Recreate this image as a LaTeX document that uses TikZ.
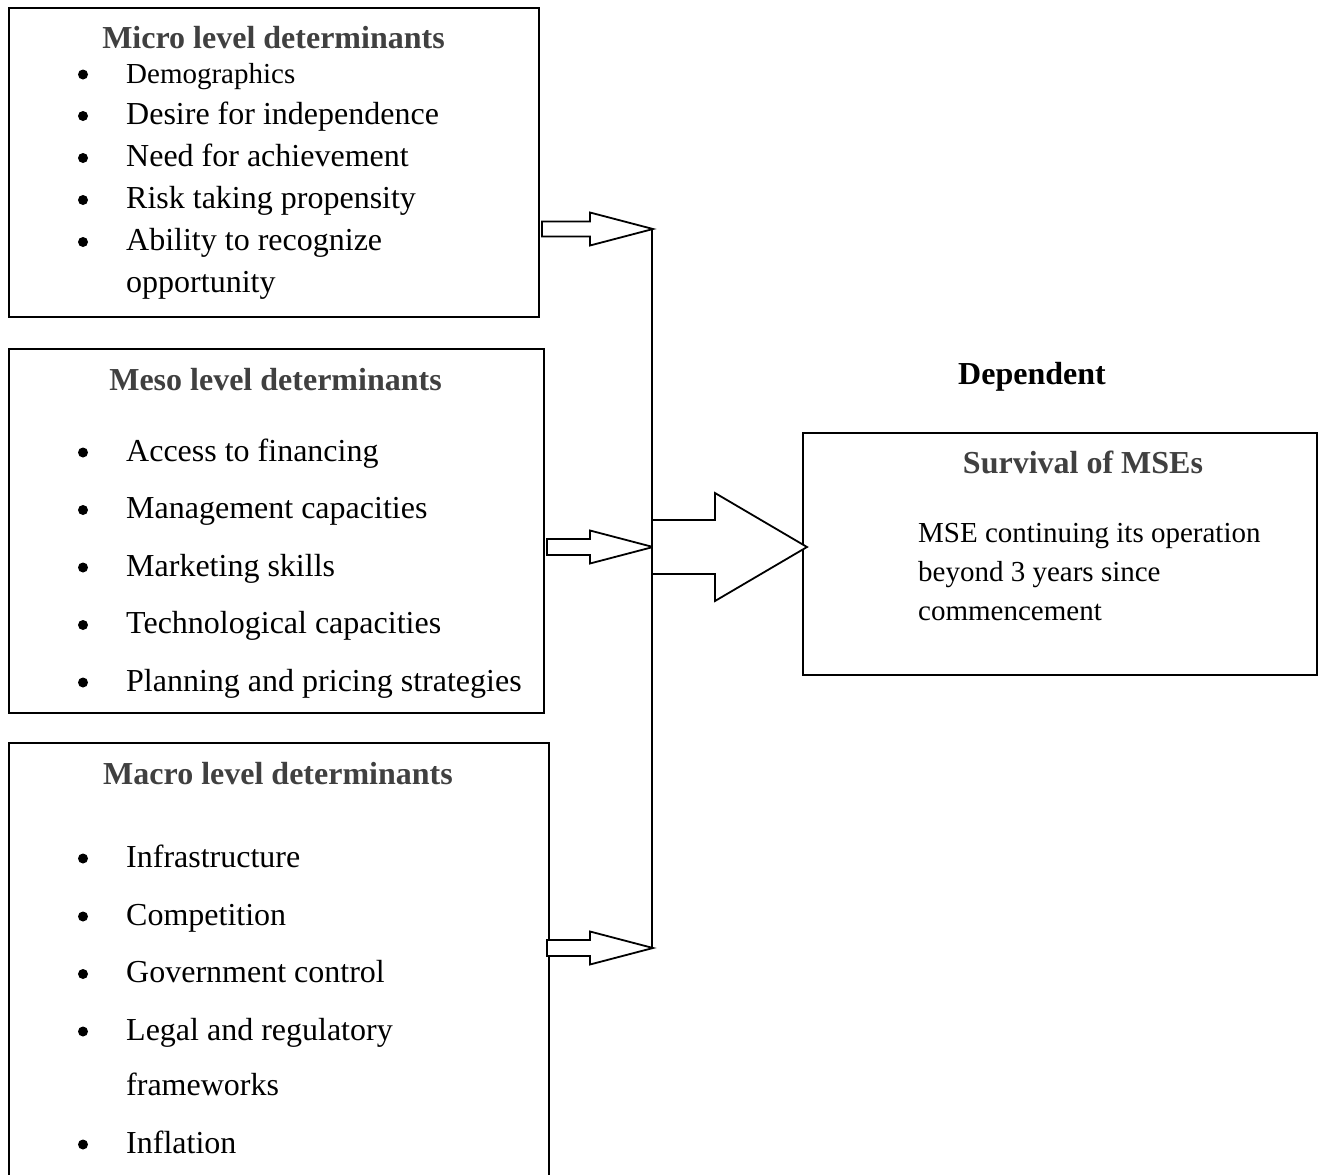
\documentclass[tikz,border=0pt]{standalone}
\usepackage{fontspec}
\setmainfont{Liberation Serif}
\usetikzlibrary{calc}
\definecolor{headgray}{HTML}{404040}
\tikzset{
  boxst/.style={draw=black, line width=1.8pt, anchor=north west, inner sep=0pt},
  blk/.style={draw=black, line width=1.8pt, fill=white, line join=miter},
  conn/.style={draw=black, line width=1.8pt},
  itm/.style={anchor=base west, inner sep=0pt, font=\fontsize{32}{42}\selectfont},
  smallitm/.style={anchor=base west, inner sep=0pt, font=\fontsize{29}{38}\selectfont},
  head/.style={anchor=base, inner sep=0pt, text=headgray, font=\fontsize{32}{42}\selectfont\bfseries},
}
\newcommand{\myitem}[3]{\fill (83,{#1-8.5}) circle (5); \node[itm] (#2) at (126,#1) {#3};}
\newcommand{\blockarrow}[5]{%
  \draw[blk] ($(#1)+(0,-#4)$) -- ($(#2)+(-#3,-#4)$) -- ($(#2)+(-#3,-#5)$) -- (#2)
    -- ($(#2)+(-#3,#5)$) -- ($(#2)+(-#3,#4)$) -- ($(#1)+(0,#4)$) -- cycle;}
\begin{document}
\begin{tikzpicture}[x=1pt,y=-1pt]
\useasboundingbox (0,0) rectangle (1323,1175);
\clip (0,0) rectangle (1323,1175);
% boxes
\node[boxst, minimum width=530pt, minimum height=309pt] (micro) at (8,7) {};
\node[boxst, minimum width=535pt, minimum height=364pt] (meso) at (8,348) {};
\node[boxst, minimum width=540pt, minimum height=450pt] (macro) at (8,742) {};
\node[boxst, minimum width=514pt, minimum height=242pt] (surv) at (802,432) {};
% micro
\node[head] (microh) at (273.5,48) {Micro level determinants};
\fill (83,74.5) circle (5);
\node[smallitm] (m1) at (126,83) {Demographics};
\myitem{124.5}{m2}{Desire for independence}
\myitem{166.5}{m3}{Need for achievement}
\myitem{208.5}{m4}{Risk taking propensity}
\myitem{250.5}{m5}{Ability to recognize}
\node[itm] (m5b) at (126,292.5) {opportunity};
% meso
\node[head] (mesoh) at (275.5,390) {Meso level determinants};
\myitem{461}{s1}{Access to financing}
\myitem{518.5}{s2}{Management capacities}
\myitem{576}{s3}{Marketing skills}
\myitem{633.5}{s4}{Technological capacities}
\myitem{691}{s5}{Planning and pricing strategies}
% macro
\node[head] (macroh) at (278,784) {Macro level determinants};
\myitem{867}{c1}{Infrastructure}
\myitem{925}{c2}{Competition}
\myitem{982.5}{c3}{Government control}
\myitem{1040}{c4}{Legal and regulatory}
\node[itm] (c4b) at (126,1095) {frameworks};
\myitem{1153}{c5}{Inflation}
% dependent
\node[anchor=base west, inner sep=0pt, font=\fontsize{32}{42}\selectfont\bfseries] (dep) at (958,384) {Dependent};
\node[head] (survh) at (1083,473) {Survival of MSEs};
\node[smallitm] (d1) at (918,542) {MSE continuing its operation};
\node[smallitm] (d2) at (918,581) {beyond 3 years since};
\node[smallitm] (d3) at (918,620) {commencement};
% connectors
\coordinate (t1) at (653,229);
\coordinate (t2) at (653,547);
\coordinate (t3) at (653,948);
\coordinate (b1) at (542,229);
\coordinate (b2) at (547,547);
\coordinate (b3) at (547,948);
\coordinate (vtop) at (652,229);
\coordinate (vbot) at (652,948);
\blockarrow{b1}{t1}{63}{7.5}{16.5}
\blockarrow{b2}{t2}{63}{8}{16.5}
\blockarrow{b3}{t3}{63}{8}{16.5}
\coordinate (bigtip) at (807,547);
\draw[blk] (652,520) -- (715,520) -- (715,493) -- (bigtip) -- (715,601) -- (715,574) -- (652,574);
\draw[conn] (vtop) -- (vbot);
\end{tikzpicture}
\end{document}
